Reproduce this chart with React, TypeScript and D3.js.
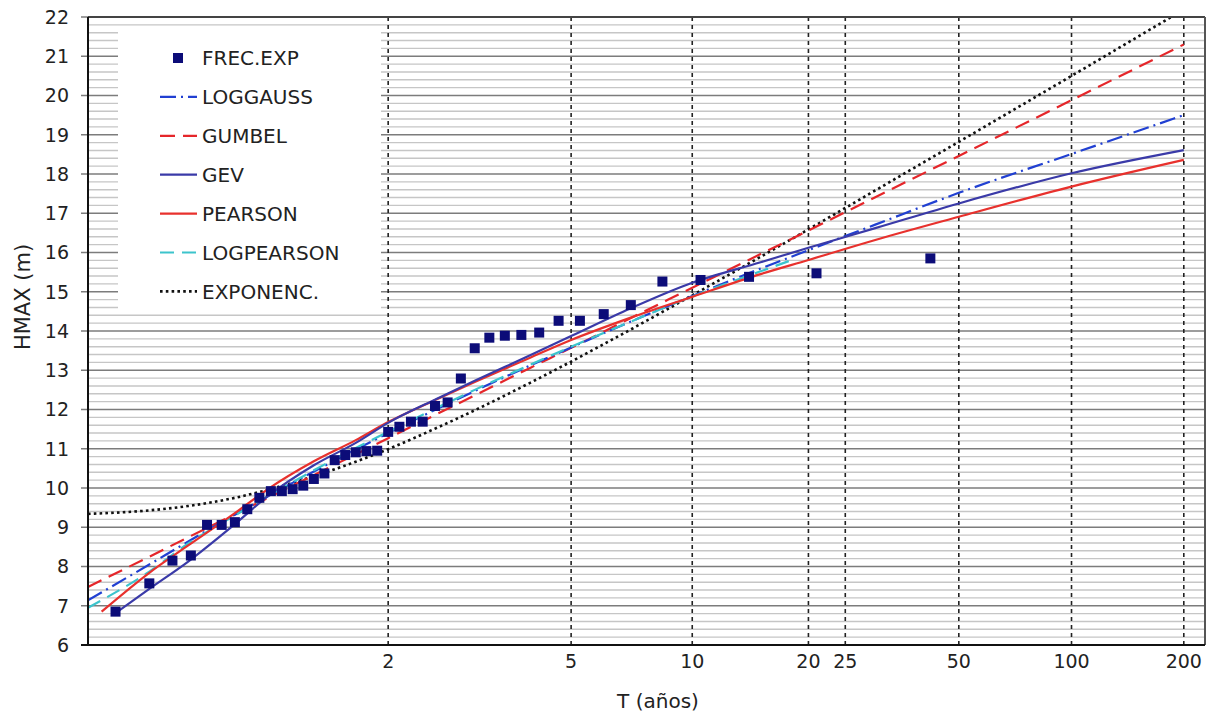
import React from 'react';
import * as d3 from 'd3';

// ---------- data ----------
// observed annual maxima (m), sorted ascending, with their return periods (años)
const obsT = [1.024, 1.05, 1.077, 1.105, 1.135, 1.167, 1.2, 1.235, 1.273, 1.313, 1.355, 1.4, 1.448, 1.5, 1.556, 1.615, 1.68, 1.75, 1.826, 1.909, 2, 2.1, 2.211, 2.333, 2.471, 2.625, 2.8, 3, 3.231, 3.5, 3.818, 4.2, 4.667, 5.25, 6, 7, 8.4, 10.5, 14, 21, 42];
const obsH = [6.85, 7.57, 8.15, 8.28, 9.06, 9.06, 9.13, 9.46, 9.75, 9.92, 9.92, 9.97, 10.06, 10.23, 10.37, 10.71, 10.84, 10.91, 10.94, 10.95, 11.43, 11.56, 11.69, 11.69, 12.09, 12.18, 12.79, 13.56, 13.83, 13.88, 13.9, 13.96, 14.26, 14.26, 14.43, 14.66, 15.26, 15.3, 15.38, 15.47, 15.85];

const curveT = [1.0118, 1.05, 1.1, 1.2, 1.3, 1.5, 1.75, 2, 2.5, 3, 4, 5, 7, 10, 15, 20, 30, 50, 100, 200];
const loggaussH = [7.14, 8.05, 8.63, 9.32, 9.78, 10.42, 10.98, 11.4, 12.02, 12.47, 13.12, 13.58, 14.24, 14.89, 15.59, 16.06, 16.71, 17.52, 18.51, 19.5];
const gumbelH = [7.48, 8.25, 8.74, 9.33, 9.74, 10.33, 10.86, 11.27, 11.89, 12.36, 13.06, 13.57, 14.33, 15.1, 15.96, 16.56, 17.41, 18.46, 19.88, 21.3];
const expH = [9.34, 9.43, 9.54, 9.75, 9.95, 10.3, 10.67, 10.99, 11.54, 11.98, 12.68, 13.22, 14.04, 14.91, 15.89, 16.59, 17.58, 18.82, 20.5, 22.19];

const gevT = [1.024, 1.05, 1.1, 1.2, 1.3, 1.5, 1.75, 2, 2.5, 3, 4, 5, 7, 10, 15, 20, 30, 50, 100, 200];
const gevH = [6.81, 7.43, 8.12, 9.08, 9.78, 10.58, 11.15, 11.66, 12.28, 12.73, 13.38, 13.87, 14.58, 15.23, 15.75, 16.12, 16.62, 17.25, 18.02, 18.61];

const pearsonT = [1.017, 1.05, 1.1, 1.2, 1.3, 1.5, 1.75, 2, 2.5, 3, 4, 5, 7, 10, 15, 20, 30, 50, 100, 200];
const pearsonH = [6.85, 7.84, 8.53, 9.36, 9.96, 10.68, 11.22, 11.68, 12.27, 12.7, 13.32, 13.77, 14.34, 14.87, 15.45, 15.81, 16.32, 16.91, 17.68, 18.36];

const logpearsonT = [1.0118, 1.05, 1.1, 1.2, 1.3, 1.5, 1.75, 2, 2.5, 3, 4, 5, 7, 10, 15, 18];
const logpearsonH = [6.95, 7.87, 8.58, 9.3, 9.78, 10.45, 11.02, 11.43, 12.05, 12.5, 13.14, 13.6, 14.24, 14.88, 15.52, 15.8];

const xTickValues = [2, 5, 10, 20, 25, 50, 100, 200];
const yTickValues = [6, 7, 8, 9, 10, 11, 12, 13, 14, 15, 16, 17, 18, 19, 20, 21, 22];
const tDomain = [1.0118, 228];
const hDomain = [6, 22];

// ---------- layout ----------
const W = 1211, H = 718;
const PL = 88, PR = 1205, PT = 17, PB = 645;
const FONT = 'DejaVu Sans, Verdana, sans-serif';

const gum = (T: number) => -Math.log(-Math.log(1 - 1 / T));

const x = d3.scaleLinear().domain(tDomain.map(gum)).range([PL, PR]);
const y = d3.scaleLinear().domain(hDomain).range([PB, PT]);
const xT = (T: number) => x(gum(T));

const series = [
  { name: 'LOGGAUSS', T: curveT, H: loggaussH, color: '#2140d2', dash: '16,5,2,5', w: 2.2 },
  { name: 'GUMBEL', T: curveT, H: gumbelH, color: '#e5262a', dash: '15,8', w: 2.2 },
  { name: 'GEV', T: gevT, H: gevH, color: '#3a3aa8', dash: '', w: 2.2 },
  { name: 'PEARSON', T: pearsonT, H: pearsonH, color: '#e8312d', dash: '', w: 2.2 },
  { name: 'LOGPEARSON', T: logpearsonT, H: logpearsonH, color: '#3cc4cc', dash: '14,8', w: 2.2 },
  { name: 'EXPONENC.', T: curveT, H: expH, color: '#111111', dash: '2.6,3.2', w: 2.6 },
];
const drawOrder = ['EXPONENC.', 'GUMBEL', 'LOGGAUSS', 'LOGPEARSON', 'PEARSON', 'GEV'];

const line = d3
  .line<[number, number]>()
  .x((d) => xT(d[0]))
  .y((d) => y(d[1]))
  .curve(d3.curveMonotoneX);

export default function App() {
  const minor: number[] = [];
  for (let v = hDomain[0]; v < hDomain[1] - 1e-6; v += 0.2) {
    const r = Math.round(v * 10) / 10;
    if (Math.abs(r - Math.round(r)) > 1e-6) minor.push(r);
  }
  const legX = 118, legY = 28, legW = 263, legH = 285;
  const rowY = (i: number) => 58 + i * 38.9;

  return (
    <svg width={W} height={H} style={{ position: 'absolute', left: 0, top: 0, background: '#fff' }} fontFamily={FONT}>
      <defs>
        <clipPath id="plotClip">
          <rect x={PL} y={PT} width={PR - PL} height={PB - PT} />
        </clipPath>
      </defs>
      <rect x={0} y={0} width={W} height={H} fill="#fff" />
      {/* minor gridlines */}
      {minor.map((v) => (
        <line key={'mi' + v} x1={PL} x2={PR} y1={y(v)} y2={y(v)} stroke="#c6c6c6" strokeWidth={1.4} />
      ))}
      {/* major gridlines + ticks */}
      {yTickValues.map((v) => (
        <line key={'ma' + v} x1={PL - 7} x2={PR} y1={y(v)} y2={y(v)} stroke="#7c7c7c" strokeWidth={1.3} />
      ))}
      {/* legend background */}
      <rect x={legX} y={legY} width={legW} height={legH} fill="#fff" />
      {/* vertical dashed lines */}
      {xTickValues.map((t) => (
        <line key={'vx' + t} x1={xT(t)} x2={xT(t)} y1={PT} y2={PB} stroke="#222" strokeWidth={1.6} strokeDasharray="4,4" />
      ))}
      {/* curves */}
      <g clipPath="url(#plotClip)">
        {drawOrder.map((n) => {
          const s = series.find((d) => d.name === n)!;
          const pts = s.T.map((t, i) => [t, s.H[i]] as [number, number]);
          return (
            <path key={n} d={line(pts) || ''} fill="none" stroke={s.color} strokeWidth={s.w} strokeDasharray={s.dash || undefined} />
          );
        })}
        {obsT.map((t, i) => (
          <rect key={'p' + i} x={xT(t) - 5} y={y(obsH[i]) - 5} width={10} height={10} fill="#0c0c78" />
        ))}
      </g>
      {/* frame */}
      <line x1={PL} x2={PR} y1={PT} y2={PT} stroke="#444" strokeWidth={2} />
      <line x1={PR} x2={PR} y1={PT} y2={PB} stroke="#555" strokeWidth={2} />
      <line x1={PL} x2={PL} y1={PT} y2={PB} stroke="#111" strokeWidth={2} />
      <line x1={PL - 7} x2={PR} y1={PB} y2={PB} stroke="#111" strokeWidth={2} />
      {/* y tick labels */}
      {yTickValues.map((v) => (
        <text key={'yl' + v} x={69} y={y(v)} dy="0.36em" textAnchor="end" fontSize={19} fill="#222">
          {v}
        </text>
      ))}
      {/* x tick labels */}
      {xTickValues.map((t) => (
        <text key={'xl' + t} x={xT(t)} y={668} textAnchor="middle" fontSize={19} fill="#222">
          {t}
        </text>
      ))}
      <text x={658} y={708} textAnchor="middle" fontSize={20} fill="#222">
        T (años)
      </text>
      <text transform="translate(22,297) rotate(-90)" textAnchor="middle" dy="0.36em" fontSize={21} fill="#222">
        HMAX (m)
      </text>
      {/* legend */}
      <g>
        <rect x={178 - 5} y={rowY(0) - 5} width={10} height={10} fill="#0c0c78" />
        <text x={202} y={rowY(0)} dy="0.36em" fontSize={20} fill="#222">
          FREC.EXP
        </text>
        {series.map((s, i) => (
          <g key={'lg' + s.name}>
            <line x1={160} x2={197} y1={rowY(i + 1)} y2={rowY(i + 1)} stroke={s.color} strokeWidth={s.w} strokeDasharray={s.dash || undefined} />
            <text x={202} y={rowY(i + 1)} dy="0.36em" fontSize={20} fill="#222">
              {s.name}
            </text>
          </g>
        ))}
      </g>
    </svg>
  );
}
